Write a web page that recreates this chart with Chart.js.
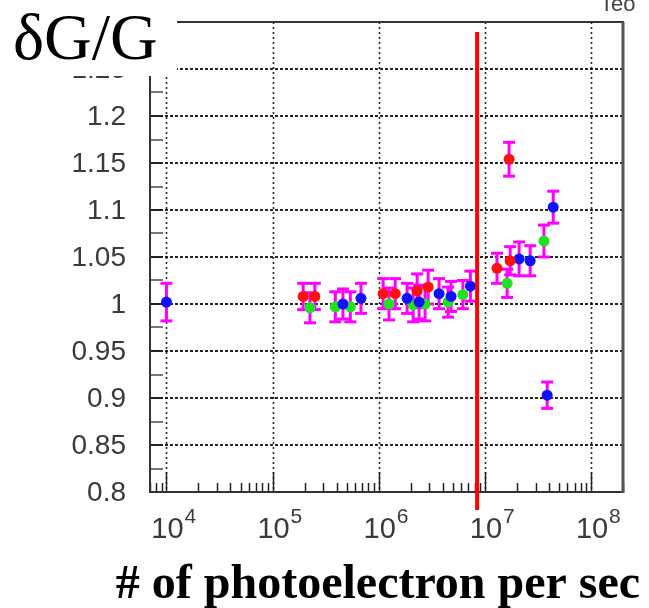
<!DOCTYPE html>
<html>
<head>
<meta charset="utf-8">
<script src="https://cdn.jsdelivr.net/npm/chart.js@4"></script>
<style>
  html, body { margin: 0; padding: 0; background: #fff; }
</style>
</head>
<body>
<canvas id="chart" width="649" height="608"></canvas>
<script>
// red points
const redX = [1.94e5, 2.5e5, 1.1e6, 1.43e6, 2.3e6, 2.92e6, 1.3e7, 1.69e7, 1.73e7];
const redY = [1.008, 1.008, 1.011, 1.011, 1.014, 1.018, 1.038, 1.154, 1.046];
const redErr = [0.014, 0.014, 0.016, 0.016, 0.018, 0.018, 0.016, 0.018, 0.015];

// green points
const greenX = [2.25e5, 3.9e5, 5.4e5, 1.25e6, 2.11e6, 2.73e6, 4.5e6, 6.2e6, 1.62e7, 3.6e7];
const greenY = [0.996, 0.997, 0.997, 1.0, 0.999, 1.0, 1.002, 1.01, 1.022, 1.067];
const greenErr = [0.016, 0.016, 0.016, 0.017, 0.018, 0.018, 0.016, 0.015, 0.015, 0.017];

// blue points
const blueX = [1e4, 4.6e5, 6.8e5, 1.85e6, 2.4e6, 3.7e6, 4.8e6, 7.3e6, 2.1e7, 2.67e7, 3.86e7, 4.4e7];
const blueY = [1.002, 1.0, 1.006, 1.006, 1.002, 1.011, 1.008, 1.019, 1.048, 1.046, 0.903, 1.103];
const blueErr = [0.02, 0.016, 0.016, 0.016, 0.018, 0.016, 0.016, 0.016, 0.018, 0.016, 0.014, 0.017];

// vertical red marker
const cutRate = 8.45e6;

// axis ticks
const yTickValues = [0.8, 0.85, 0.9, 0.95, 1.0, 1.05, 1.1, 1.15, 1.2, 1.25];
const yTickLabels = ["0.8", "0.85", "0.9", "0.95", "1", "1.05", "1.1", "1.15", "1.2", "1.25"];
const xDecades = [4, 5, 6, 7, 8];

const toPoints = (xs, ys) => xs.map((x, i) => ({ x: x, y: ys[i] }));

function seg(ctx, x1, y1, x2, y2) {
  ctx.beginPath();
  ctx.moveTo(x1, y1);
  ctx.lineTo(x2, y2);
  ctx.stroke();
}

const frame = {
  id: "frame",
  beforeDatasetsDraw(chart) {
    const { ctx, chartArea: a, scales: { x, y } } = chart;
    ctx.save();

    // dotted grid
    ctx.strokeStyle = "rgba(0,0,0,0.85)";
    ctx.lineWidth = 2;
    ctx.setLineDash([3, 2]);
    yTickValues.forEach(v => {
      const py = Math.round(y.getPixelForValue(v));
      seg(ctx, a.left, py, a.right, py);
    });
    ctx.lineWidth = 1.6;
    ctx.setLineDash([2, 3]);
    xDecades.forEach(d => {
      const px = Math.round(x.getPixelForValue(Math.pow(10, d))) + 0.5;
      seg(ctx, px, a.top, px, a.bottom);
    });
    ctx.setLineDash([]);

    // y tick marks
    for (let k = 0; k <= 20; k++) {
      const py = Math.round(y.getPixelForValue(0.8 + k * 0.025));
      ctx.strokeStyle = k % 2 === 0 ? "#222" : "#777";
      ctx.lineWidth = 2;
      seg(ctx, a.left, py, a.left + 13, py);
    }

    // x tick marks
    ctx.strokeStyle = "#222";
    ctx.lineWidth = 1.5;
    for (let d = 3; d <= 8; d++) {
      for (let m = 1; m <= 9; m++) {
        const v = m * Math.pow(10, d);
        if (v < x.min || v > x.max) continue;
        const px = Math.round(x.getPixelForValue(v)) + 0.5;
        seg(ctx, px, a.bottom, px, a.bottom - (m === 1 ? 20 : 9));
      }
    }

    // frame
    ctx.strokeStyle = "#333";
    ctx.lineWidth = 2;
    ctx.strokeRect(a.left, a.top, a.right - a.left, a.bottom - a.top);
    ctx.strokeStyle = "#555";
    ctx.lineWidth = 3;
    seg(ctx, a.right, a.top, a.right, a.bottom + 1);

    // error bars
    ctx.strokeStyle = "#ff00ff";
    ctx.lineWidth = 3;
    chart.data.datasets.forEach(ds => {
      ds.data.forEach((p, i) => {
        const px = x.getPixelForValue(p.x);
        const hi = y.getPixelForValue(p.y + ds.errors[i]);
        const lo = y.getPixelForValue(p.y - ds.errors[i]);
        seg(ctx, px, hi, px, lo);
        seg(ctx, px - 6, hi, px + 6, hi);
        seg(ctx, px - 6, lo, px + 6, lo);
      });
    });
    ctx.restore();
  },
  afterDraw(chart) {
    const { ctx, chartArea: a, scales: { x, y } } = chart;
    ctx.save();

    // red marker line
    const rx = x.getPixelForValue(cutRate);
    ctx.strokeStyle = "#ff0000";
    ctx.lineWidth = 4;
    seg(ctx, rx, a.top + 10, rx, a.bottom + 18);

    // y tick labels
    ctx.fillStyle = "#3a3a3a";
    ctx.font = "28px 'Liberation Sans', Arial, sans-serif";
    ctx.textAlign = "right";
    ctx.textBaseline = "middle";
    yTickValues.forEach((v, i) => {
      ctx.fillText(yTickLabels[i], 126, y.getPixelForValue(v) + 1);
    });

    // x tick labels 10^n
    ctx.textBaseline = "alphabetic";
    xDecades.forEach(d => {
      const px = x.getPixelForValue(Math.pow(10, d));
      ctx.font = "29px 'Liberation Sans', Arial, sans-serif";
      ctx.textAlign = "center";
      ctx.fillText("10", px + 1, 538);
      ctx.font = "21px 'Liberation Sans', Arial, sans-serif";
      ctx.textAlign = "left";
      ctx.fillText(String(d), px + 18, 523);
    });

    // y title box
    ctx.fillStyle = "#fff";
    ctx.fillRect(0, 0, 177, 76);
    ctx.fillStyle = "#000";
    ctx.font = "66px 'Liberation Serif', 'Times New Roman', serif";
    ctx.textAlign = "left";
    ctx.fillText("δG/G", 13, 59);

    // x title
    ctx.font = "bold 48px 'Liberation Serif', 'Times New Roman', serif";
    ctx.textAlign = "center";
    ctx.fillText("# of photoelectron per sec", 378, 598);

    // clipped title fragment at top right
    ctx.fillStyle = "#444";
    ctx.font = "22px 'Liberation Sans', Arial, sans-serif";
    ctx.textAlign = "left";
    ctx.fillText("Teo", 600, 11);
    ctx.restore();
  }
};

new Chart(document.getElementById("chart"), {
  type: "scatter",
  data: {
    datasets: [
      { label: "red", data: toPoints(redX, redY), errors: redErr, backgroundColor: "#ff1010" },
      { label: "blue", data: toPoints(blueX, blueY), errors: blueErr, backgroundColor: "#1010ff" },
      { label: "green", data: toPoints(greenX, greenY), errors: greenErr, backgroundColor: "#22e022" }
    ]
  },
  options: {
    responsive: false,
    animation: false,
    devicePixelRatio: 1,
    layout: { padding: { left: 150, right: 26, top: 22, bottom: 116 } },
    plugins: { legend: { display: false }, tooltip: { enabled: false } },
    elements: { point: { radius: 5.5, borderWidth: 0, hoverRadius: 5.5 } },
    scales: {
      x: { type: "logarithmic", min: 7e3, max: 2e8, display: false },
      y: { min: 0.8, max: 1.3, display: false }
    }
  },
  plugins: [frame]
});
</script>
</body>
</html>
